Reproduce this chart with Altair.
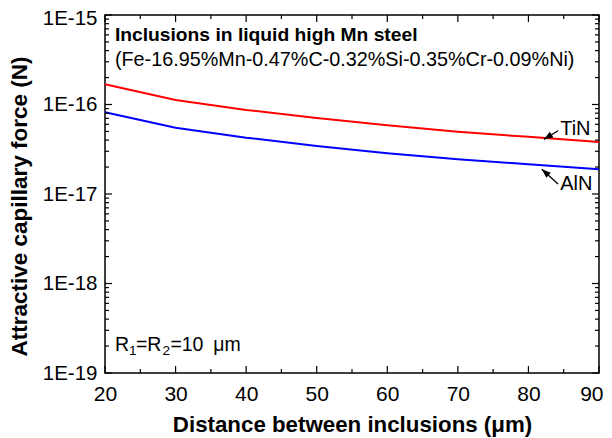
import altair as alt
import pandas as pd

# ---- data ----
distance = [20, 30, 40, 50, 60, 70, 80, 90]
tin_force = [1.68e-16, 1.12e-16, 8.69e-17, 7.05e-17, 5.86e-17, 4.96e-17, 4.35e-17, 3.81e-17]
aln_force = [8.18e-17, 5.51e-17, 4.26e-17, 3.44e-17, 2.86e-17, 2.44e-17, 2.15e-17, 1.89e-17]
series_names = ["TiN", "AlN"]

x_major = [20, 30, 40, 50, 60, 70, 80, 90]
x_minor = [25, 35, 45, 55, 65, 75, 85]
y_major = [1e-19, 1e-18, 1e-17, 1e-16, 1e-15]
y_minor = [m * 10.0 ** k for k in range(-19, -15) for m in range(2, 10)]

title_line1 = "Inclusions in liquid high Mn steel"
title_line2 = "(Fe-16.95%Mn-0.47%C-0.32%Si-0.35%Cr-0.09%Ni)"
radius_main = ["R", "=R", "=10\u2002\u03bcm"]
radius_sub = ["1", "2"]

# annotation anchor points (data coordinates)
note_x = 21.4
note_y = [5.12e-16, 2.72e-16]
radius_y = 1.77e-19

label_x = [84.5, 84.5]
label_y = [4.56e-17, 1.11e-17]

arrow_x = [84.2, 84.2]
arrow_y = [5.09e-17, 1.29e-17]
arrow_tip_x = [82.2, 81.9]
arrow_tip_y = [4.08e-17, 1.89e-17]

W, H = 494, 358
FONT = "Liberation Sans"

xscale = alt.Scale(domain=[20, 90], nice=False, zero=False)
yscale = alt.Scale(type="log", domain=[1e-19, 1e-15], nice=False)

df = pd.DataFrame({
    "d": distance + distance,
    "F": tin_force + aln_force,
    "series": [series_names[0]] * len(distance) + [series_names[1]] * len(distance),
})

lines = alt.Chart(df).mark_line(strokeWidth=2).encode(
    x=alt.X("d:Q", scale=xscale, axis=alt.Axis(
        values=x_major, format="d", ticks=False, domain=False, grid=False,
        labelPadding=10, labelFontSize=21, labelFont=FONT, labelColor="black",
        labelFlush=False, labelOverlap=False,
        labelAlign={"condition": {"test": "datum.value >= 89", "value": "right"}, "value": "center"},
        labelOffset={"condition": {"test": "datum.value >= 89", "value": 4}, "value": 0},
        title="Distance between inclusions (\u03bcm)", titleFont=FONT,
        titleFontSize=22.3, titleFontWeight="bold", titleColor="black",
        titleX=247, titleY=58, titleAlign="center", titleBaseline="alphabetic")),
    y=alt.Y("F:Q", scale=yscale, axis=alt.Axis(
        values=y_major, labelExpr="'1E' + round(log(datum.value)/LN10)",
        ticks=False, domain=False, grid=False,
        labelPadding=8, labelFontSize=20.5, labelFont=FONT, labelColor="black",
        labelFlush=False, labelOverlap=False,
        labelOffset={"condition": {"test": "datum.value > 5e-16", "value": 3.5}, "value": 0},
        title="Attractive capillary force (N)", titleFont=FONT,
        titleFontSize=22.5, titleFontWeight="bold", titleColor="black",
        titleAngle=270, titleX=-79, titleY=191, titleAlign="center",
        titleBaseline="alphabetic")),
    color=alt.Color("series:N", scale=alt.Scale(domain=series_names, range=["#ff0000", "#0000ff"]), legend=None),
)

def yticks(vals, length):
    d = pd.DataFrame({"v": vals})
    left = alt.Chart(d).mark_rule(color="black", strokeWidth=1.2).encode(
        y=alt.Y("v:Q", scale=yscale), x=alt.value(0), x2=alt.value(length))
    right = alt.Chart(d).mark_rule(color="black", strokeWidth=1.2).encode(
        y=alt.Y("v:Q", scale=yscale), x=alt.value(W), x2=alt.value(W - length))
    return [left, right]

def xticks(vals, length):
    d = pd.DataFrame({"v": vals})
    bottom = alt.Chart(d).mark_rule(color="black", strokeWidth=1.2).encode(
        x=alt.X("v:Q", scale=xscale), y=alt.value(H), y2=alt.value(H - length))
    top = alt.Chart(d).mark_rule(color="black", strokeWidth=1.2).encode(
        x=alt.X("v:Q", scale=xscale), y=alt.value(0), y2=alt.value(length))
    return [bottom, top]

ticks = yticks(y_major, 7) + yticks(y_minor, 4) + xticks(x_major, 7) + xticks(x_minor, 4)

def text_at(x, y, t, size, weight="normal", dx=0, dy=0):
    d = pd.DataFrame({"x": [x], "y": [y], "t": [t]})
    return alt.Chart(d).mark_text(
        align="left", baseline="alphabetic", font=FONT, fontSize=size, fontWeight=weight,
        color="black", dx=dx, dy=dy
    ).encode(x=alt.X("x:Q", scale=xscale), y=alt.Y("y:Q", scale=yscale), text="t:N")

note1 = text_at(note_x, note_y[0], title_line1, 19.25, "bold")
note2 = text_at(note_x, note_y[1], title_line2, 19.8)

radius_layers = [
    text_at(note_x, radius_y, radius_main[0], 19.5, dx=0),
    text_at(note_x, radius_y, radius_sub[0], 13.5, dx=14, dy=4.5),
    text_at(note_x, radius_y, radius_main[1], 19.5, dx=21),
    text_at(note_x, radius_y, radius_sub[1], 13.5, dx=47.5, dy=4.5),
    text_at(note_x, radius_y, radius_main[2], 19.5, dx=55.5),
]

labels_df = pd.DataFrame({"x": label_x, "y": label_y, "t": series_names})
labels = alt.Chart(labels_df).mark_text(
    align="left", baseline="alphabetic", font=FONT, fontSize=20, color="black"
).encode(x=alt.X("x:Q", scale=xscale), y=alt.Y("y:Q", scale=yscale), text="t:N")

arrows_df = pd.DataFrame({"x": arrow_x, "y": arrow_y, "x2": arrow_tip_x, "y2": arrow_tip_y})
arrow_lines = alt.Chart(arrows_df).mark_rule(color="black", strokeWidth=1.3).encode(
    x=alt.X("x:Q", scale=xscale), y=alt.Y("y:Q", scale=yscale),
    x2="x2:Q", y2="y2:Q")

head_path = "M0,0L-0.5,1.35L0.5,1.35Z"
head_tin = alt.Chart(arrows_df.iloc[[0]]).mark_point(
    shape=head_path, filled=True, color="black", opacity=1, size=180, angle=238, strokeWidth=0
).encode(x=alt.X("x2:Q", scale=xscale), y=alt.Y("y2:Q", scale=yscale))
head_aln = alt.Chart(arrows_df.iloc[[1]]).mark_point(
    shape=head_path, filled=True, color="black", opacity=1, size=180, angle=312, strokeWidth=0
).encode(x=alt.X("x2:Q", scale=xscale), y=alt.Y("y2:Q", scale=yscale))

chart = alt.layer(lines, *ticks, note1, note2, *radius_layers, labels, arrow_lines, head_tin, head_aln).properties(
    width=W, height=H,
    background="white",
    autosize=alt.AutoSizeParams(type="none"),
    padding={"left": 97, "top": 7, "right": 5, "bottom": 65},
).configure_view(stroke="black", strokeWidth=1.5)

chart.save("out.html", embed_options={"renderer": "svg", "actions": False})
